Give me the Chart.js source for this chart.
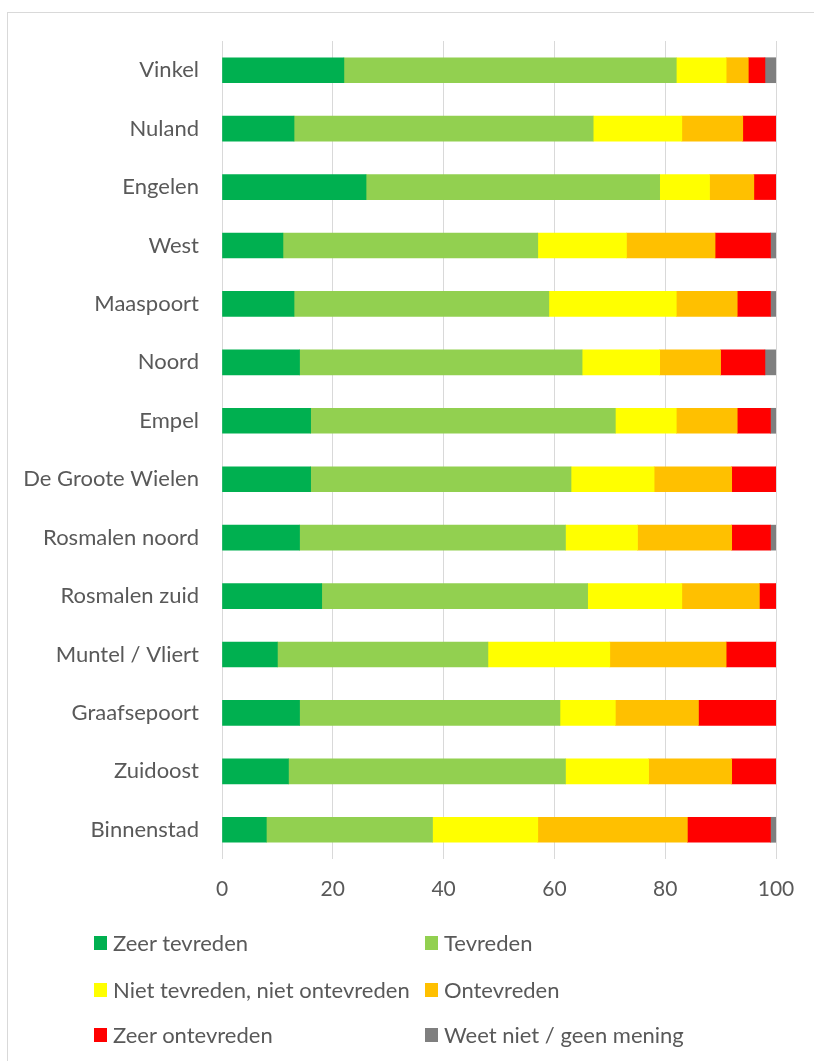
<!DOCTYPE html>
<html>
<head>
<meta charset="utf-8">
<script src="https://cdn.jsdelivr.net/npm/chart.js@4"></script>
<style>
  body { margin: 0; background: #fff; }
  #wrap { position: relative; width: 814px; height: 1061px; overflow: hidden; }
  #frame { position: absolute; left: 7px; top: 12px; width: 900px; height: 1200px; border: 1px solid #d9d9d9; box-sizing: border-box; }
  canvas { position: absolute; left: 0; top: 0; }
  .item { position: absolute; font-family: Lato, sans-serif; font-size: 22px; color: #595959; white-space: nowrap; line-height: 26px; }
  .item span.box { position: absolute; left: 0; top: 6px; width: 13px; height: 14px; }
  .item span.txt { position: absolute; left: 19px; top: 0; }
</style>
</head>
<body>
<div id="wrap">
  <div id="frame"></div>
  <canvas id="chart" width="814" height="1061"></canvas>
  <div id="legend"></div>
</div>
<script>
// wijken (top to bottom)
const wijken = ['Vinkel', 'Nuland', 'Engelen', 'West', 'Maaspoort', 'Noord', 'Empel', 'De Groote Wielen', 'Rosmalen noord', 'Rosmalen zuid', 'Muntel / Vliert', 'Graafsepoort', 'Zuidoost', 'Binnenstad'];

// percentages per answer
const zeerTevreden   = [22, 13, 26, 11, 13, 14, 16, 16, 14, 18, 10, 14, 12, 8];
const tevreden       = [60, 54, 53, 46, 46, 51, 55, 47, 48, 48, 38, 47, 50, 30];
const neutraal       = [9, 16, 9, 16, 23, 14, 11, 15, 13, 17, 22, 10, 15, 19];
const ontevreden     = [4, 11, 8, 16, 11, 11, 11, 14, 17, 14, 21, 15, 15, 27];
const zeerOntevreden = [3, 6, 4, 10, 6, 8, 6, 8, 7, 3, 9, 14, 8, 15];
const weetNiet       = [2, 0, 0, 1, 1, 2, 1, 0, 1, 0, 0, 0, 0, 1];

const xTicks = [0, 20, 40, 60, 80, 100];

const series = [
  { label: 'Zeer tevreden', data: zeerTevreden, color: '#00B050' },
  { label: 'Tevreden', data: tevreden, color: '#92D050' },
  { label: 'Niet tevreden, niet ontevreden', data: neutraal, color: '#FFFF00' },
  { label: 'Ontevreden', data: ontevreden, color: '#FFC000' },
  { label: 'Zeer ontevreden', data: zeerOntevreden, color: '#FF0000' },
  { label: 'Weet niet / geen mening', data: weetNiet, color: '#7F7F7F' }
];

const chart = new Chart(document.getElementById('chart'), {
  type: 'bar',
  data: {
    labels: wijken,
    datasets: series.map(s => ({
      label: s.label,
      data: s.data,
      backgroundColor: s.color,
      borderWidth: 0,
      barThickness: 25
    }))
  },
  options: {
    indexAxis: 'y',
    responsive: false,
    animation: false,
    layout: { padding: { top: 41, right: 38, left: 0, bottom: 0 } },
    plugins: { legend: { display: false }, tooltip: { enabled: false } },
    scales: {
      x: {
        stacked: true,
        min: 0,
        max: 100,
        afterBuildTicks: scale => { scale.ticks = xTicks.map(v => ({ value: v })); },
        afterFit: scale => { scale.height = 1061 - 41 - 818; },
        grid: { color: '#d9d9d9', lineWidth: 1, drawTicks: false },
        border: { display: false },
        ticks: { color: '#595959', font: { family: 'Lato, sans-serif', size: 21 }, padding: 18 }
      },
      y: {
        stacked: true,
        afterFit: scale => { scale.width = 222; },
        grid: { display: false, drawTicks: false },
        border: { display: false },
        ticks: { color: '#595959', font: { family: 'Lato, sans-serif', size: 22 }, padding: 23 }
      }
    }
  }
});

// legend in two columns
const legendPos = [
  [94, 930], [425, 930],
  [94, 977], [425, 977],
  [94, 1022], [425, 1022]
];
const legend = document.getElementById('legend');
series.forEach((s, i) => {
  const el = document.createElement('div');
  el.className = 'item';
  el.style.left = legendPos[i][0] + 'px';
  el.style.top = legendPos[i][1] + 'px';
  el.innerHTML = '<span class="box" style="background:' + s.color + '"></span><span class="txt">' + s.label + '</span>';
  legend.appendChild(el);
});
</script>
</body>
</html>
